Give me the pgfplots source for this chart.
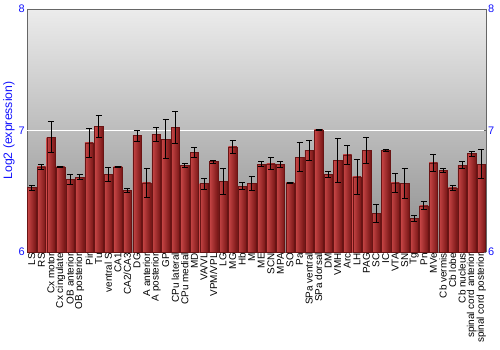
\documentclass[border=0pt]{standalone}
\usepackage{pgfplots}
\pgfplotsset{compat=1.18}
\usepackage{pgfplotstable}
\usepackage{fontspec}
\setmainfont{Liberation Sans}
\definecolor{tickblue}{RGB}{20,20,255}
\definecolor{barL}{RGB}{200,70,70}
\definecolor{barR}{RGB}{120,22,22}
\definecolor{barD}{RGB}{105,20,20}
\definecolor{bgtop}{RGB}{236,236,236}
\definecolor{bgbot}{RGB}{140,140,140}
\pgfplotstableread{
x y e
0 6.53 0.02
1 6.70 0.018
2 6.946 0.13
3 6.70 0.005
4 6.60 0.04
5 6.617 0.022
6 6.90 0.12
7 7.035 0.09
8 6.637 0.056
9 6.70 0.004
10 6.508 0.015
11 6.958 0.044
12 6.568 0.12
13 6.968 0.06
14 6.928 0.16
15 7.024 0.13
16 6.714 0.018
17 6.82 0.043
18 6.563 0.044
19 6.744 0.012
20 6.582 0.11
21 6.867 0.055
22 6.543 0.03
23 6.563 0.06
24 6.722 0.02
25 6.727 0.048
26 6.72 0.027
27 6.568 0.004
28 6.78 0.12
29 6.837 0.083
30 7.007 0.004
31 6.64 0.025
32 6.755 0.18
33 6.80 0.08
34 6.62 0.145
35 6.837 0.11
36 6.318 0.077
37 6.837 0.01
38 6.568 0.075
39 6.565 0.12
40 6.277 0.027
41 6.38 0.033
42 6.733 0.073
43 6.672 0.02
44 6.527 0.02
45 6.714 0.03
46 6.81 0.02
47 6.724 0.12
}\datatable
\begin{document}
\begin{tikzpicture}
\useasboundingbox (-27bp,-98bp) rectangle (473bp,252bp);
\begin{axis}[
  at={(0,0)}, anchor=south west,
  scale only axis, width=459bp, height=243bp,
  xmin=-0.5, xmax=47.5, ymin=6, ymax=8,
  axis background/.style={top color=bgtop, bottom color=bgbot},
  axis line style={draw=gray!80!black, line width=0.6pt},
  axis y line*=left, axis x line*=bottom,
  ytick={6,7,8}, yticklabels={6,7,8},
  yticklabel style={font=\fontsize{11}{12}\selectfont, text=tickblue, inner sep=2pt},
  y tick style={gray!80!black}, major tick length=2.5bp,
  xtick={0,...,47},
  x tick style={draw=none},
  xticklabels={LS,RS,Cx motor,Cx cingulate,OB anterior,OB posterior,Pir,Tu,ventral S,CA1,CA2/CA3,DG,A anterior,A posterior,GP,CPu lateral,CPu medial,MD,VA/VL,VPM/VPL,LG,MG,Hb,M,ME,SCN,MPA,SO,Pa,SPa ventral,SPa dorsal,DM,VMH,Arc,LH,PAG,SC,IC,VTA,SN,Tg,Pn,MVe,Cb vermis,Cb lobe,Cb nucleus,spinal cord anterior,spinal cord posterior},
  xticklabel style={rotate=90, anchor=east, font=\fontsize{10}{10}\selectfont, inner sep=1pt},
  ylabel={Log2 (expression)},
  ylabel style={font=\fontsize{12.3}{13}\selectfont, text=tickblue, at={(axis description cs:0,0.5)}, anchor=center, yshift=18bp},
  clip=false,
]
\addplot[white, line width=1.2pt, forget plot] coordinates {(-0.5,7) (47.5,7)};
\pgfplotsinvokeforeach{0,...,47}{
\addplot[ybar, bar shift=0pt, bar width=0.88, draw=barD, line width=0.3pt, left color=barL, right color=barR,
  x filter/.expression={abs(x-#1)<0.2 ? x : nan},
  unbounded coords=discard,
  error bars/.cd, y dir=both, y explicit,
  error bar style={black, line width=0.8pt},
  error mark options={rotate=90, mark size=3bp, black, line width=0.8pt}]
  table[x=x, y=y, y error=e] {\datatable};
}
\draw[gray!80!black, line width=0.6pt] (axis cs:-0.5,8) -- (axis cs:47.5,8);
\end{axis}
\begin{axis}[
  at={(0,0)}, anchor=south west,
  scale only axis, width=459bp, height=243bp,
  xmin=-0.5, xmax=47.5, ymin=6, ymax=8,
  axis y line*=right, axis x line=none,
  axis line style={draw=gray!80!black, line width=0.6pt},
  ytick={6,7,8}, yticklabels={6,7,8},
  yticklabel style={font=\fontsize{11}{12}\selectfont, text=tickblue, inner sep=2pt},
  y tick style={gray!80!black}, major tick length=2.5bp,
]
\end{axis}
\end{tikzpicture}
\end{document}
